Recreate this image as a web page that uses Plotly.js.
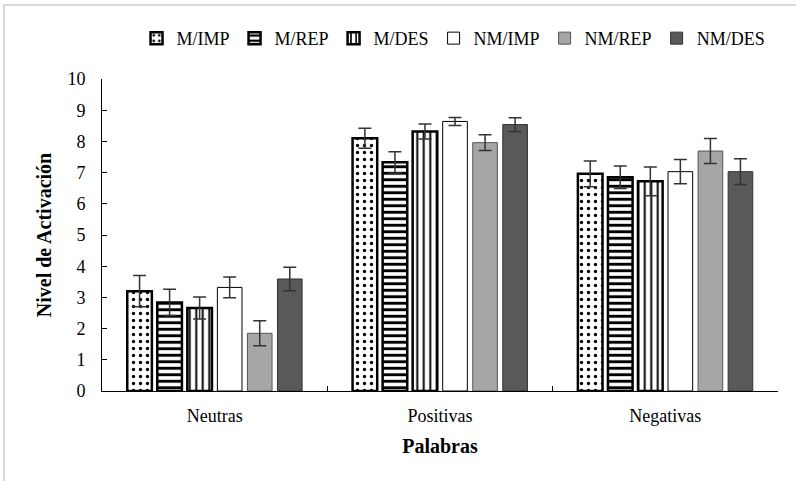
<!DOCTYPE html>
<html><head><meta charset="utf-8">
<script src="https://cdn.plot.ly/plotly-3.0.1.min.js"></script>
<style>html,body{margin:0;padding:0;background:#fff;}#chart{width:796px;height:481px;}</style>
</head><body><div id="chart"></div>
<script>
var categories = ["Neutras", "Positivas", "Negativas"];
var seriesNames = ["M/IMP", "M/REP", "M/DES", "NM/IMP", "NM/REP", "NM/DES"];
var mImp  = [3.20, 8.10, 6.96];
var mRep  = [2.84, 7.33, 6.85];
var mDes  = [2.66, 8.32, 6.72];
var nmImp = [3.32, 8.64, 7.03];
var nmRep = [1.85, 7.96, 7.69];
var nmDes = [3.59, 8.54, 7.03];
var errMImp  = [0.50, 0.32, 0.41];
var errMRep  = [0.42, 0.34, 0.36];
var errMDes  = [0.35, 0.24, 0.46];
var errNmImp = [0.33, 0.13, 0.39];
var errNmRep = [0.40, 0.25, 0.40];
var errNmDes = [0.38, 0.22, 0.41];

var values = [mImp, mRep, mDes, nmImp, nmRep, nmDes];
var errors = [errMImp, errMRep, errMDes, errNmImp, errNmRep, errNmDes];
var styles = [
  {color:"#ffffff", line:{color:"#000", width:2.5}, pattern:{shape:".", fgcolor:"#000", bgcolor:"#fff", size:7, solidity:0.18}},
  {color:"#ffffff", line:{color:"#000", width:2.5}, pattern:{shape:"-", fgcolor:"#000", bgcolor:"#fff", size:6.5, solidity:0.45}},
  {color:"#ffffff", line:{color:"#000", width:2.5}, pattern:{shape:"|", fgcolor:"#000", bgcolor:"#fff", size:6.5, solidity:0.3}},
  {color:"#ffffff", line:{color:"#000", width:1}},
  {color:"#a6a6a6", line:{color:"#555", width:1}},
  {color:"#595959", line:{color:"#333", width:1}}
];

var traces = seriesNames.map(function(n, i){
  return {
    type:"bar", name:n, x:categories, y:values[i],
    marker: styles[i],
    error_y:{type:"data", array:errors[i], visible:true, color:"#333", thickness:1.5, width:6.5}
  };
});

var serif = "'Liberation Serif', 'DejaVu Serif', serif";
var layout = {
  width:796, height:481,
  margin:{l:102, r:18, t:79, b:90},
  paper_bgcolor:"#fff", plot_bgcolor:"#fff",
  font:{family:serif, color:"#000", size:18},
  barmode:"group", bargap:0.2, bargroupgap:0.18,
  showlegend:true,
  legend:{orientation:"h", x:0.52, xanchor:"center", y:1.13, yanchor:"middle",
          font:{family:serif, size:18}, itemwidth:30, tracegroupgap:0},
  xaxis:{type:"category", showline:true, linecolor:"#000", linewidth:1,
         ticks:"inside", tickson:"boundaries", ticklen:5, tickcolor:"#000",
         showgrid:false, zeroline:false, tickfont:{family:serif, size:18},
         ticklabelstandoff:8,
         title:{text:"<b>Palabras</b>", font:{family:serif, size:20}, standoff:14}},
  yaxis:{range:[0,10], dtick:1, showline:true, linecolor:"#000", linewidth:1,
         ticks:"inside", ticklen:5, tickcolor:"#000", showgrid:false, zeroline:false,
         tickfont:{family:serif, size:18}, ticklabelstandoff:12,
         title:{text:"<b>Nivel de Activación</b>", font:{family:serif, size:20}, standoff:10}},
  shapes:[{type:"rect", xref:"paper", yref:"paper", x0:-0.145, x1:1.2, y0:-0.8, y1:1.237,
           line:{color:"#d9d9d9", width:2}, fillcolor:"rgba(0,0,0,0)"}]
};
Plotly.newPlot("chart", traces, layout, {displayModeBar:false, staticPlot:true});
</script></body></html>
